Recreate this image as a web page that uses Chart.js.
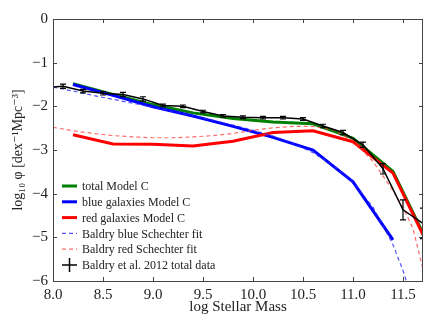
<!DOCTYPE html>
<html>
<head>
<meta charset="utf-8">
<script src="https://cdn.jsdelivr.net/npm/chart.js@4/dist/chart.umd.min.js"></script>
<style>
  html, body { margin: 0; padding: 0; background: #fff; }
  #wrap { width: 436px; height: 327px; position: relative; }
</style>
</head>
<body>
<div id="wrap"><canvas id="myChart" width="436" height="327"></canvas></div>
<script>
// log stellar mass bins for the model curves
var modelMass = [8.2, 8.6, 9.0, 9.4, 9.8, 10.2, 10.6, 11.0, 11.4, 11.8];
var totalC = [-1.48, -1.73, -1.96, -2.15, -2.28, -2.36, -2.40, -2.73, -3.49, -5.38];
var blueMass = [8.2, 8.6, 9.0, 9.4, 9.8, 10.2, 10.6, 11.0, 11.4];
var blueC = [-1.50, -1.75, -2.01, -2.22, -2.46, -2.71, -3.00, -3.73, -5.06];
var redC = [-2.65, -2.86, -2.87, -2.91, -2.80, -2.60, -2.56, -2.81, -3.53, -5.41];

// Baldry Schechter fits
var fitMass = [8.0, 8.2, 8.4, 8.6, 8.8, 9.0, 9.2, 9.4, 9.6, 9.8, 10.0, 10.2, 10.4, 10.6, 10.8, 11.0, 11.2, 11.4, 11.5, 11.6, 11.7];
var blueFit = [-1.56, -1.65, -1.75, -1.84, -1.93, -2.02, -2.12, -2.21, -2.32, -2.43, -2.55, -2.68, -2.85, -3.06, -3.35, -3.74, -4.31, -5.17, -5.76, -6.48, null];
var redFit = [-2.48, -2.56, -2.62, -2.67, -2.70, -2.72, -2.72, -2.70, -2.67, -2.62, -2.55, -2.49, -2.46, -2.46, -2.54, -2.79, -3.26, -3.93, -4.31, -4.80, -5.73];

// Baldry et al. 2012 total data
var dataMass = [7.9, 8.1, 8.3, 8.5, 8.7, 8.9, 9.1, 9.3, 9.5, 9.7, 9.9, 10.1, 10.3, 10.5, 10.7, 10.9, 11.1, 11.3, 11.5, 11.7];
var dataPhi = [-1.57, -1.54, -1.65, -1.70, -1.73, -1.83, -1.98, -2.00, -2.12, -2.22, -2.25, -2.26, -2.26, -2.29, -2.45, -2.60, -2.88, -3.43, -4.37, -4.68];
var dataErr = [0.05, 0.05, 0.04, 0.04, 0.05, 0.05, 0.03, 0.03, 0.03, 0.03, 0.03, 0.03, 0.03, 0.03, 0.04, 0.05, 0.06, 0.12, 0.23, 0.35];

var xTickVals = [8.0, 8.5, 9.0, 9.5, 10.0, 10.5, 11.0, 11.5];
var yTickVals = [0, -1, -2, -3, -4, -5, -6];

var legendLabels = ["total Model C", "blue galaxies Model C", "red galaxies Model C",
  "Baldry blue Schechter fit", "Baldry red Schechter fit", "Baldry et al. 2012 total data"];

var FONT = "'Liberation Serif', 'DejaVu Serif', serif";
var FRAME = "#444";

function pts(xs, ys) {
  var out = [];
  for (var i = 0; i < xs.length; i++) {
    if (ys[i] !== null && ys[i] !== undefined) out.push({ x: xs[i], y: ys[i] });
  }
  return out;
}

function minusFmt(v, digits) {
  var s = Math.abs(v).toFixed(digits);
  return (v < -1e-9 ? "\u2212" : "") + s;
}

// frame, inward ticks, error bars and the in-plot legend
var decorPlugin = {
  id: "decor",
  afterDatasetsDraw: function (chart) {
    var ctx = chart.ctx, a = chart.chartArea;
    var xs = chart.scales.x, ys = chart.scales.y;

    // error bars on the Baldry data
    ctx.save();
    ctx.beginPath();
    ctx.rect(a.left, a.top, a.right - a.left, a.bottom - a.top);
    ctx.clip();
    ctx.strokeStyle = "#000";
    ctx.lineWidth = 1.2;
    for (var i = 0; i < dataMass.length; i++) {
      var px = xs.getPixelForValue(dataMass[i]);
      var y1 = ys.getPixelForValue(dataPhi[i] + dataErr[i]);
      var y2 = ys.getPixelForValue(dataPhi[i] - dataErr[i]);
      ctx.beginPath();
      ctx.moveTo(px, y1); ctx.lineTo(px, y2);
      ctx.moveTo(px - 3, y1); ctx.lineTo(px + 3, y1);
      ctx.moveTo(px - 3, y2); ctx.lineTo(px + 3, y2);
      ctx.stroke();
    }
    ctx.restore();

    // frame and ticks
    ctx.save();
    ctx.strokeStyle = FRAME;
    ctx.lineWidth = 1;
    ctx.strokeRect(a.left + 0.5, a.top + 0.5, a.right - a.left - 1, a.bottom - a.top);
    ctx.beginPath();
    xTickVals.forEach(function (v) {
      var p = Math.round(xs.getPixelForValue(v)) + 0.5;
      ctx.moveTo(p, a.bottom); ctx.lineTo(p, a.bottom - 4);
      ctx.moveTo(p, a.top); ctx.lineTo(p, a.top + 4);
    });
    yTickVals.forEach(function (v) {
      var p = Math.round(ys.getPixelForValue(v)) + 0.5;
      ctx.moveTo(a.left, p); ctx.lineTo(a.left + 4, p);
      ctx.moveTo(a.right, p); ctx.lineTo(a.right - 4, p);
    });
    ctx.stroke();
    ctx.restore();

    // legend
    ctx.save();
    var lx = a.left + 9, ly = a.top + 167, step = 15.8;
    ctx.font = "12px " + FONT;
    ctx.textBaseline = "middle";
    ctx.fillStyle = "#222";
    chart.data.datasets.forEach(function (ds, k) {
      var yy = ly + k * step;
      ctx.save();
      ctx.strokeStyle = ds.borderColor;
      ctx.lineWidth = ds.borderWidth;
      ctx.setLineDash(ds.borderDash || []);
      ctx.beginPath();
      ctx.moveTo(lx, yy); ctx.lineTo(lx + 15, yy);
      ctx.stroke();
      if (k === 5) {
        ctx.beginPath();
        ctx.moveTo(lx + 7.5, yy - 7); ctx.lineTo(lx + 7.5, yy + 7);
        ctx.stroke();
      }
      ctx.restore();
      ctx.fillText(legendLabels[k], lx + 20, yy + 1);
    });
    ctx.restore();
  }
};

var ctx = document.getElementById("myChart").getContext("2d");
var chart = new Chart(ctx, {
  type: "line",
  data: {
    datasets: [
      { label: legendLabels[0], data: pts(modelMass, totalC), borderColor: "#008000", borderWidth: 3, order: 6 },
      { label: legendLabels[1], data: pts(blueMass, blueC), borderColor: "#0000ff", borderWidth: 3, order: 5 },
      { label: legendLabels[2], data: pts(modelMass, redC), borderColor: "#ff0000", borderWidth: 3, order: 4 },
      { label: legendLabels[3], data: pts(fitMass, blueFit), borderColor: "rgba(40,40,255,0.8)", borderWidth: 1.2, borderDash: [4, 3], order: 3 },
      { label: legendLabels[4], data: pts(fitMass, redFit), borderColor: "rgba(255,60,60,0.75)", borderWidth: 1.2, borderDash: [4, 3], order: 2 },
      { label: legendLabels[5], data: pts(dataMass, dataPhi), borderColor: "#000", borderWidth: 1.5, order: 1 }
    ]
  },
  options: {
    responsive: false,
    animation: false,
    events: [],
    elements: { point: { radius: 0 }, line: { tension: 0, fill: false } },
    layout: { padding: { top: 19, right: 13, left: 0, bottom: 0 } },
    plugins: { legend: { display: false }, tooltip: { enabled: false } },
    scales: {
      x: {
        type: "linear", min: 8, max: 11.7,
        grid: { display: false, drawTicks: false, tickLength: 0 }, border: { display: false },
        afterBuildTicks: function (s) { s.ticks = xTickVals.map(function (v) { return { value: v }; }); },
        afterFit: function (s) { s.height = 46; },
        ticks: {
          color: "#222", padding: 5, maxRotation: 0,
          font: { family: FONT, size: 15 },
          callback: function (v) { return minusFmt(v, 1); }
        },
        title: { display: true, text: "log Stellar Mass", color: "#222", font: { family: FONT, size: 15 }, padding: { top: 2, bottom: 11 } }
      },
      y: {
        type: "linear", min: -6, max: 0,
        grid: { display: false, drawTicks: false, tickLength: 0 }, border: { display: false },
        afterBuildTicks: function (s) { s.ticks = yTickVals.map(function (v) { return { value: v }; }); },
        afterFit: function (s) { s.width = 53; },
        ticks: {
          color: "#222", padding: 5,
          font: { family: FONT, size: 15 },
          callback: function (v) { return minusFmt(v, 0); }
        },
        title: { display: true, text: "log\u2081\u2080 \u03c6 [dex\u207b\u00b9Mpc\u207b\u00b3]", color: "#222", font: { family: FONT, size: 14 }, padding: { top: 10, bottom: 4 } }
      }
    }
  },
  plugins: [decorPlugin]
});
</script>
</body>
</html>
